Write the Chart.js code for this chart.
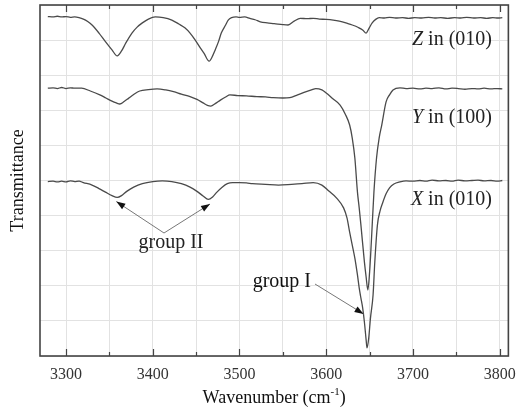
<!DOCTYPE html>
<html>
<head>
<meta charset="utf-8">
<script src="https://cdn.jsdelivr.net/npm/chart.js@4/dist/chart.umd.min.js"></script>
<style>
  body { margin: 0; background: #fff; }
</style>
</head>
<body>
<canvas id="irChart" width="525" height="410"></canvas>
<script>
// OH stretching region, three polarisations, traces offset vertically
const waveZ = [3279, 3285, 3290, 3295, 3300, 3305, 3310, 3315, 3320, 3325, 3330, 3338, 3345, 3353, 3359, 3364, 3369, 3376, 3382, 3388, 3395, 3403, 3412, 3422, 3430, 3437, 3443, 3449, 3455, 3459, 3465, 3469, 3472, 3476, 3479, 3484, 3487, 3491, 3496, 3500, 3506, 3512, 3518, 3524, 3532, 3540, 3550, 3556, 3563, 3570, 3578, 3585, 3592, 3600, 3608, 3615, 3625, 3630, 3637, 3642, 3646, 3649, 3653, 3657, 3661, 3667, 3673, 3680, 3688, 3695, 3702, 3710, 3718, 3725, 3732, 3740, 3748, 3755, 3762, 3770, 3778, 3785, 3792, 3798, 3803];
const transZ = [9.67, 9.66, 9.68, 9.66, 9.67, 9.65, 9.66, 9.64, 9.60, 9.53, 9.43, 9.20, 8.97, 8.72, 8.55, 8.69, 8.92, 9.20, 9.37, 9.49, 9.60, 9.66, 9.64, 9.57, 9.46, 9.35, 9.20, 9.00, 8.77, 8.63, 8.40, 8.55, 8.72, 8.97, 9.20, 9.43, 9.57, 9.64, 9.66, 9.65, 9.66, 9.62, 9.58, 9.52, 9.49, 9.47, 9.44, 9.43, 9.54, 9.62, 9.61, 9.62, 9.60, 9.59, 9.57, 9.54, 9.47, 9.43, 9.36, 9.29, 9.20, 9.32, 9.49, 9.59, 9.64, 9.63, 9.65, 9.63, 9.64, 9.62, 9.64, 9.63, 9.65, 9.63, 9.64, 9.62, 9.64, 9.63, 9.65, 9.63, 9.64, 9.62, 9.64, 9.63, 9.64];

const waveY = [3279, 3285, 3290, 3295, 3300, 3305, 3310, 3318, 3328, 3339, 3346, 3353, 3358, 3362, 3367, 3372, 3378, 3385, 3395, 3405, 3415, 3424, 3433, 3443, 3451, 3458, 3463, 3467, 3472, 3478, 3484, 3489, 3498, 3508, 3520, 3530, 3539, 3550, 3558, 3567, 3577, 3583, 3588, 3595, 3600, 3608, 3616, 3622, 3627, 3630, 3633, 3636, 3638, 3640, 3644, 3646, 3648, 3650, 3652, 3655, 3658, 3661, 3664, 3669, 3673, 3677, 3685, 3692, 3700, 3708, 3715, 3722, 3730, 3738, 3745, 3752, 3760, 3768, 3775, 3782, 3790, 3797, 3803];
const transY = [7.63, 7.64, 7.62, 7.65, 7.62, 7.64, 7.63, 7.63, 7.55, 7.44, 7.35, 7.26, 7.21, 7.18, 7.25, 7.34, 7.45, 7.55, 7.59, 7.61, 7.58, 7.53, 7.46, 7.39, 7.31, 7.21, 7.14, 7.12, 7.19, 7.29, 7.38, 7.44, 7.42, 7.41, 7.39, 7.38, 7.36, 7.35, 7.36, 7.44, 7.53, 7.58, 7.62, 7.58, 7.49, 7.32, 7.15, 6.89, 6.58, 6.21, 5.64, 4.67, 4.22, 3.73, 2.68, 2.25, 1.88, 2.39, 3.25, 4.67, 5.64, 6.21, 6.58, 7.24, 7.44, 7.58, 7.64, 7.62, 7.63, 7.61, 7.63, 7.62, 7.64, 7.61, 7.63, 7.62, 7.60, 7.62, 7.61, 7.63, 7.61, 7.62, 7.61];

const waveX = [3279, 3285, 3290, 3295, 3300, 3305, 3310, 3315, 3320, 3330, 3338, 3346, 3353, 3359, 3364, 3370, 3378, 3388, 3400, 3411, 3422, 3433, 3443, 3451, 3458, 3464, 3469, 3474, 3480, 3486, 3492, 3500, 3508, 3515, 3530, 3545, 3560, 3572, 3585, 3595, 3603, 3612, 3620, 3624, 3627, 3630, 3633, 3636, 3638, 3640, 3642, 3644, 3646, 3647, 3649, 3651, 3654, 3656, 3659, 3662, 3665, 3669, 3673, 3678, 3685, 3692, 3700, 3708, 3715, 3722, 3730, 3738, 3745, 3752, 3760, 3768, 3775, 3782, 3790, 3797, 3803];
const transX = [4.97, 4.98, 4.96, 4.98, 4.96, 4.99, 4.97, 4.98, 4.94, 4.87, 4.77, 4.66, 4.57, 4.52, 4.57, 4.69, 4.81, 4.91, 4.97, 4.99, 4.97, 4.91, 4.81, 4.69, 4.56, 4.46, 4.53, 4.67, 4.81, 4.91, 4.94, 4.94, 4.93, 4.91, 4.89, 4.87, 4.89, 4.91, 4.94, 4.87, 4.70, 4.50, 4.22, 3.93, 3.53, 3.16, 2.79, 2.31, 1.94, 1.65, 1.37, 0.97, 0.46, 0.23, 0.51, 1.08, 1.74, 2.68, 3.73, 4.13, 4.36, 4.62, 4.79, 4.90, 4.96, 4.99, 4.98, 5.00, 4.98, 5.01, 4.99, 5.00, 4.98, 5.01, 4.99, 5.00, 5.01, 4.99, 5.00, 4.98, 5.00];

const xTicks = [3300, 3350, 3400, 3450, 3500, 3550, 3600, 3650, 3700, 3750, 3800];
const xLabels = ['3300', '3400', '3500', '3600', '3700', '3800'];
const traceNames = ['Z', 'Y', 'X'];
const tracePlanes = ['(010)', '(100)', '(010)'];

function toPoints(xs, ys) {
  return xs.map((x, i) => ({ x: x, y: ys[i] }));
}

const serif = "'Liberation Serif', 'DejaVu Serif', serif";
const lineColor = '#4a4a4a';

function arrow(ctx, x0, y0, x1, y1) {
  ctx.strokeStyle = '#777';
  ctx.lineWidth = 1;
  ctx.beginPath();
  ctx.moveTo(x0, y0);
  ctx.lineTo(x1, y1);
  ctx.stroke();
  const a = Math.atan2(y1 - y0, x1 - x0);
  const len = 9, w = 3.2;
  ctx.fillStyle = '#111';
  ctx.beginPath();
  ctx.moveTo(x1, y1);
  ctx.lineTo(x1 - len * Math.cos(a) + w * Math.sin(a), y1 - len * Math.sin(a) - w * Math.cos(a));
  ctx.lineTo(x1 - len * Math.cos(a) - w * Math.sin(a), y1 - len * Math.sin(a) + w * Math.cos(a));
  ctx.closePath();
  ctx.fill();
}

// frame, inward ticks, labels and arrows
const decorPlugin = {
  id: 'decor',
  afterDraw(chart) {
    const ctx = chart.ctx;
    const area = chart.chartArea;
    const xs = chart.scales.x;
    const ys = chart.scales.y;
    ctx.save();

    ctx.strokeStyle = '#444';
    ctx.lineWidth = 1.6;
    ctx.strokeRect(area.left, area.top, area.right - area.left, area.bottom - area.top);

    ctx.lineWidth = 1.2;
    xTicks.forEach(v => {
      const px = Math.round(xs.getPixelForValue(v)) + 0.5;
      const len = v % 100 === 0 ? 7 : 4;
      ctx.beginPath();
      ctx.moveTo(px, area.bottom);
      ctx.lineTo(px, area.bottom - len);
      ctx.moveTo(px, area.top);
      ctx.lineTo(px, area.top + len);
      ctx.stroke();
    });

    // trace labels at the right
    ctx.fillStyle = '#222';
    ctx.textBaseline = 'middle';
    const labelY = [9.0, 6.8, 4.45];
    const rightX = 492;
    traceNames.forEach((n, i) => {
      const y = ys.getPixelForValue(labelY[i]);
      ctx.font = '20px ' + serif;
      ctx.textAlign = 'right';
      const rest = ' in ' + tracePlanes[i];
      ctx.fillText(rest, rightX, y);
      const w = ctx.measureText(rest).width;
      ctx.font = 'italic 20px ' + serif;
      ctx.fillText(n, rightX - w, y);
    });

    // group II: two weak bands
    ctx.font = '20px ' + serif;
    ctx.textAlign = 'center';
    ctx.fillText('group II', 171, 243);
    arrow(ctx, 164, 233, xs.getPixelForValue(3358), ys.getPixelForValue(4.40));
    arrow(ctx, 164, 233, xs.getPixelForValue(3466), ys.getPixelForValue(4.33));

    // group I: sharp band
    ctx.textAlign = 'right';
    ctx.fillText('group I', 311, 282);
    arrow(ctx, 315, 284, xs.getPixelForValue(3643), ys.getPixelForValue(1.2));

    // axis titles
    ctx.font = '18px ' + serif;
    ctx.textAlign = 'left';
    const cx = (area.left + area.right) / 2;
    const t1 = 'Wavenumber (cm';
    const sup = '-1';
    const t2 = ')';
    ctx.font = '18px ' + serif;
    const w1 = ctx.measureText(t1).width;
    const w3 = ctx.measureText(t2).width;
    ctx.font = '11px ' + serif;
    const w2 = ctx.measureText(sup).width;
    let sx = cx - (w1 + w2 + w3) / 2;
    ctx.font = '18px ' + serif;
    ctx.fillText(t1, sx, 398);
    ctx.font = '11px ' + serif;
    ctx.fillText(sup, sx + w1, 392);
    ctx.font = '18px ' + serif;
    ctx.fillText(t2, sx + w1 + w2, 398);

    ctx.translate(18, (area.top + area.bottom) / 2);
    ctx.rotate(-Math.PI / 2);
    ctx.textAlign = 'center';
    ctx.fillText('Transmittance', 0, 0);

    ctx.restore();
  }
};

const dsStyle = {
  borderColor: lineColor,
  borderWidth: 1.3,
  pointRadius: 0,
  fill: false,
  cubicInterpolationMode: 'monotone'
};

new Chart(document.getElementById('irChart'), {
  type: 'line',
  data: {
    datasets: [
      Object.assign({ label: 'Z in (010)', data: toPoints(waveZ, transZ) }, dsStyle),
      Object.assign({ label: 'Y in (100)', data: toPoints(waveY, transY) }, dsStyle),
      Object.assign({ label: 'X in (010)', data: toPoints(waveX, transX) }, dsStyle)
    ]
  },
  options: {
    responsive: false,
    animation: false,
    layout: { padding: { top: 5, right: 16, left: 0, bottom: 0 } },
    plugins: {
      legend: { display: false },
      tooltip: { enabled: false }
    },
    scales: {
      x: {
        type: 'linear',
        min: 3270,
        max: 3810,
        afterBuildTicks: scale => {
          scale.ticks = xTicks.map(v => ({ value: v }));
        },
        afterFit: scale => { scale.height = 54; },
        grid: { color: '#e2e2e2', drawTicks: false },
        border: { display: false },
        ticks: {
          padding: 9,
          color: '#333',
          font: { family: serif, size: 16 },
          maxRotation: 0,
          autoSkip: false,
          callback: v => xLabels.includes(String(v)) ? String(v) : ''
        }
      },
      y: {
        min: 0,
        max: 10,
        afterFit: scale => { scale.width = 40; },
        grid: { color: '#e2e2e2', drawTicks: false },
        border: { display: false },
        ticks: { display: false, stepSize: 1 }
      }
    }
  },
  plugins: [decorPlugin]
});
</script>
</body>
</html>
